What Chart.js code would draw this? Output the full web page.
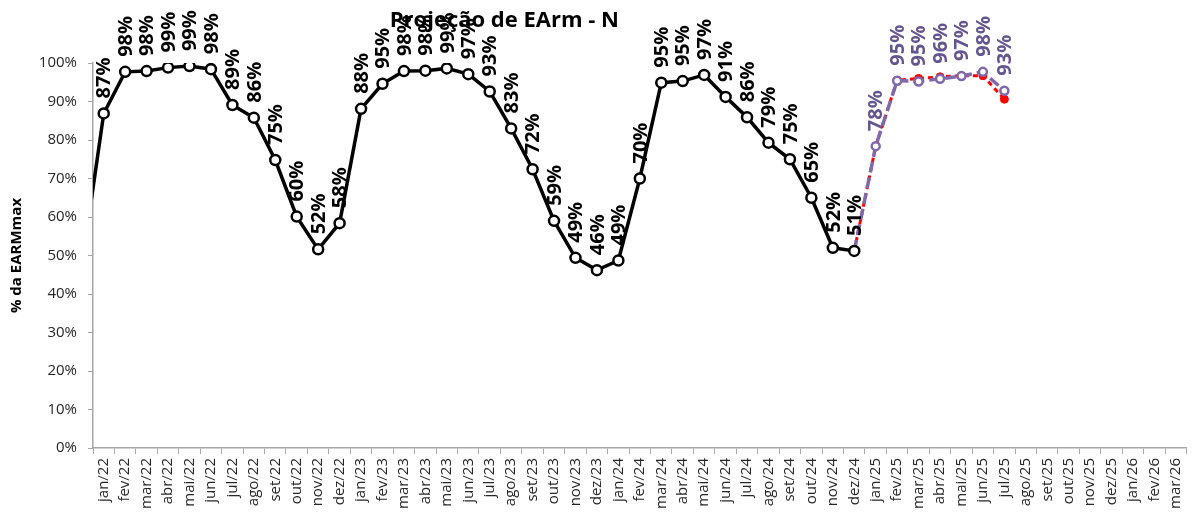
<!DOCTYPE html>
<html>
<head>
<meta charset="utf-8">
<script src="https://cdn.jsdelivr.net/npm/chart.js@4.4.1/dist/chart.umd.min.js"></script>
<style>
  body { margin: 0; background: #fff; }
</style>
</head>
<body>
<canvas id="earm" width="1198" height="516"></canvas>
<script>
const meses = [
    'jan/22','fev/22','mar/22','abr/22','mai/22','jun/22','jul/22','ago/22','set/22','out/22','nov/22','dez/22',
    'jan/23','fev/23','mar/23','abr/23','mai/23','jun/23','jul/23','ago/23','set/23','out/23','nov/23','dez/23',
    'jan/24','fev/24','mar/24','abr/24','mai/24','jun/24','jul/24','ago/24','set/24','out/24','nov/24','dez/24',
    'jan/25','fev/25','mar/25','abr/25','mai/25','jun/25','jul/25','ago/25','set/25','out/25','nov/25','dez/25',
    'jan/26','fev/26','mar/26'
];

// dez/21, only the start of the line shows at the left edge
const earmDez21 = 48;

// verificado jan/22 .. dez/24
const earmVerificado = [
    86.9, 97.7, 97.9, 98.8, 99.2, 98.4, 89.1, 85.8, 74.8, 60.1, 51.6, 58.4,
    88.1, 94.6, 97.9, 98.0, 98.6, 97.1, 92.6, 83.0, 72.4, 59.0, 49.4, 46.2,
    48.7, 70.0, 94.9, 95.3, 96.9, 91.2, 85.9, 79.3, 75.0, 65.0, 52.0, 51.2
];

// projeções dez/24 .. jul/25
const inicioProjecao = 35;
const earmProjRoxa = [51.2, 78.4, 95.4, 95.2, 95.9, 96.6, 97.7, 92.8];
const earmProjVermelha = [51.2, 78.4, 95.5, 96.0, 96.4, 96.7, 96.7, 90.6];

const fonte = '"Open Sans", "Noto Sans", sans-serif';

const ptsVerificado = [{ x: -1, y: earmDez21 }].concat(earmVerificado.map((v, i) => ({ x: i, y: v })));
const ptsRoxa = earmProjRoxa.map((v, i) => ({ x: inicioProjecao + i, y: v }));
const ptsVermelha = earmProjVermelha.map((v, i) => ({ x: inicioProjecao + i, y: v }));

const rotuloPontos = {
    id: 'rotuloPontos',
    afterDatasetsDraw(chart) {
        const c = chart.ctx;
        chart.data.datasets.forEach((ds, di) => {
            if (!ds.corRotulo) return;
            const meta = chart.getDatasetMeta(di);
            meta.data.forEach((pt, i) => {
                const raw = ds.data[i];
                if (raw.x < 0 || (ds.pularPrimeiro && i === 0)) return;
                c.save();
                c.translate(pt.x + 1, pt.y - 15);
                c.rotate(-Math.PI / 2);
                c.font = 'bold 20px ' + fonte;
                c.fillStyle = ds.corRotulo;
                c.textAlign = 'left';
                c.textBaseline = 'middle';
                c.fillText(Math.round(raw.y) + '%', 0, 0);
                c.restore();
            });
        });
    }
};

const tituloSolto = {
    id: 'tituloSolto',
    afterDraw(chart) {
        const c = chart.ctx;
        c.save();
        c.font = 'bold 22px ' + fonte;
        c.fillStyle = '#000';
        c.textAlign = 'center';
        c.textBaseline = 'middle';
        c.fillText('Projeção de EArm - N', chart.width * 0.421, 21);
        c.restore();
    }
};

const ctx = document.getElementById('earm').getContext('2d');
let grafico = new Chart(ctx, {
    type: 'line',
    data: {
        labels: meses,
        datasets: [
            {
                label: 'Verificado',
                data: ptsVerificado,
                xAxisID: 'xl',
                borderColor: '#000',
                borderWidth: 3.5,
                pointRadius: c => (c.raw && c.raw.x < 0 ? 0 : 5),
                pointBackgroundColor: '#fff',
                pointBorderColor: '#000',
                pointBorderWidth: 2.5,
                corRotulo: '#000',
                order: 1
            },
            {
                label: 'Projeção',
                data: ptsRoxa,
                xAxisID: 'xl',
                borderColor: '#7f68ac',
                borderWidth: 3.5,
                borderDash: [11, 5],
                pointRadius: c => (c.dataIndex === 0 ? 0 : 4),
                pointBackgroundColor: '#fff',
                pointBorderColor: '#7f68ac',
                pointBorderWidth: 2.5,
                corRotulo: '#65558f',
                pularPrimeiro: true,
                order: 2
            },
            {
                label: 'Projeção 2',
                data: ptsVermelha,
                xAxisID: 'xl',
                borderColor: '#ff0000',
                borderWidth: 3,
                borderDash: [5, 4],
                pointRadius: c => (c.dataIndex === 0 ? 0 : 4),
                pointBackgroundColor: '#ff0000',
                pointBorderColor: '#ff0000',
                pointBorderWidth: 1,
                order: 3
            }
        ]
    },
    options: {
        responsive: false,
        animation: false,
        devicePixelRatio: 1,
        layout: { padding: { left: 5, top: 63, right: 6, bottom: 0 } },
        plugins: {
            legend: { display: false },
            title: { display: false },
            tooltip: { enabled: false }
        },
        scales: {
            x: {
                type: 'category',
                offset: true,
                grid: { offset: true, drawOnChartArea: false, tickLength: 6, color: '#a6a6a6' },
                border: { color: '#a6a6a6', width: 1.5 },
                ticks: {
                    autoSkip: false, minRotation: 90, maxRotation: 90, padding: 4,
                    color: '#262626', font: { size: 15, family: fonte }
                },
                afterFit: s => { s.height = 68; }
            },
            xl: {
                type: 'linear',
                min: -0.5,
                max: 50.5,
                display: false
            },
            y: {
                min: 0,
                max: 100,
                grid: { drawOnChartArea: false, tickLength: 5, color: '#a6a6a6' },
                border: { color: '#a6a6a6', width: 1.5 },
                ticks: {
                    stepSize: 10, padding: 11,
                    color: '#262626', font: { size: 15, family: fonte },
                    callback: v => v + '%'
                },
                title: {
                    display: true, text: '% da EARMmax', color: '#000',
                    font: { size: 15, weight: 'bold', family: fonte }, padding: 3
                },
                afterFit: s => { s.width = 88; }
            }
        }
    },
    plugins: [rotuloPontos, tituloSolto]
});
</script>
</body>
</html>
